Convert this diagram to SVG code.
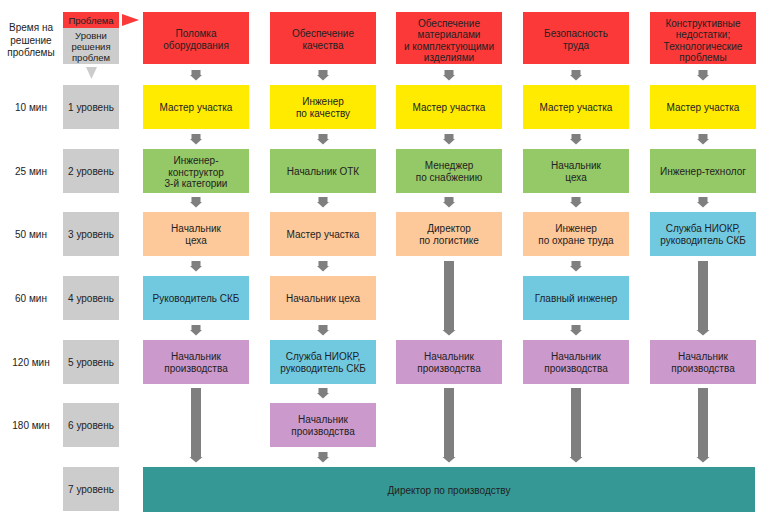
<svg xmlns="http://www.w3.org/2000/svg" width="763" height="519" viewBox="0 0 763 519">
<defs>
<style>
text{font-family:"Liberation Sans",Arial,sans-serif;font-size:10px;fill:#222;text-anchor:middle;dominant-baseline:central}
text.sm{font-size:9.5px}
.red{fill:#fb3939}.yel{fill:#ffeb00}.grn{fill:#95c866}.pch{fill:#fdc89a}.blu{fill:#71c9e0}.pur{fill:#cc99cc}.gry{fill:#cccccc}.teal{fill:#369894}
.arr{fill:#7f7f7f}
</style>
</defs>
<rect width="763" height="519" fill="#ffffff"/>

<g id="legend">
<text x="31" y="27">Время на</text>
<text x="31" y="40">решение</text>
<text x="31" y="52">проблемы</text>
<rect class="red" x="63" y="12" width="56" height="16"/>
<text class="sm" x="91" y="20.5">Проблема</text>
<rect class="gry" x="63" y="28" width="56" height="36"/>
<text class="sm" x="91" y="35">Уровни</text>
<text class="sm" x="91" y="46.5">решения</text>
<text class="sm" x="91" y="57.5">проблем</text>
<polygon points="122,14 139,20 122,26" fill="#fb3939"/>
<polygon points="86,67 97,67 91.5,79" fill="#cccccc"/>
</g>

<g id="levels">
<g id="lvl1"><text x="31" y="107">10 мин</text><rect class="gry" x="63" y="85" width="56" height="44"/><text x="91" y="107">1 уровень</text></g>
<g id="lvl2"><text x="31" y="171">25 мин</text><rect class="gry" x="63" y="149" width="56" height="44"/><text x="91" y="171">2 уровень</text></g>
<g id="lvl3"><text x="31" y="234">50 мин</text><rect class="gry" x="63" y="212" width="56" height="44"/><text x="91" y="234">3 уровень</text></g>
<g id="lvl4"><text x="31" y="298">60 мин</text><rect class="gry" x="63" y="276" width="56" height="44"/><text x="91" y="298">4 уровень</text></g>
<g id="lvl5"><text x="31" y="362">120 мин</text><rect class="gry" x="63" y="340" width="56" height="44"/><text x="91" y="362">5 уровень</text></g>
<g id="lvl6"><text x="31" y="425">180 мин</text><rect class="gry" x="63" y="403" width="56" height="44"/><text x="91" y="425">6 уровень</text></g>
<g id="lvl7"><rect class="gry" x="63" y="467" width="56" height="44"/><text x="91" y="489">7 уровень</text></g>
</g>

<g id="col1">
<g id="c1h"><rect class="red" x="143" y="12" width="106" height="52"/><text x="196" y="33">Поломка</text><text x="196" y="45">оборудования</text></g>
<g id="c1r1"><rect class="yel" x="143" y="85" width="106" height="44"/><text x="196" y="107">Мастер участка</text></g>
<g id="c1r2"><rect class="grn" x="143" y="149" width="106" height="44"/><text x="196" y="160">Инженер-</text><text x="196" y="172">конструктор</text><text x="196" y="183">3-й категории</text></g>
<g id="c1r3"><rect class="pch" x="143" y="212" width="106" height="44"/><text x="196" y="228">Начальник</text><text x="196" y="240">цеха</text></g>
<g id="c1r4"><rect class="blu" x="143" y="276" width="106" height="44"/><text x="196" y="298">Руководитель СКБ</text></g>
<g id="c1r5"><rect class="pur" x="143" y="340" width="106" height="44"/><text x="196" y="356">Начальник</text><text x="196" y="368">производства</text></g>
</g>

<g id="col2">
<g id="c2h"><rect class="red" x="270" y="12" width="106" height="52"/><text x="323" y="33">Обеспечение</text><text x="323" y="45">качества</text></g>
<g id="c2r1"><rect class="yel" x="270" y="85" width="106" height="44"/><text x="323" y="101">Инженер</text><text x="323" y="113">по качеству</text></g>
<g id="c2r2"><rect class="grn" x="270" y="149" width="106" height="44"/><text x="323" y="171">Начальник ОТК</text></g>
<g id="c2r3"><rect class="pch" x="270" y="212" width="106" height="44"/><text x="323" y="234">Мастер участка</text></g>
<g id="c2r4"><rect class="pch" x="270" y="276" width="106" height="44"/><text x="323" y="298">Начальник цеха</text></g>
<g id="c2r5"><rect class="blu" x="270" y="340" width="106" height="44"/><text x="323" y="356">Служба НИОКР,</text><text x="323" y="368">руководитель СКБ</text></g>
<g id="c2r6"><rect class="pur" x="270" y="403" width="106" height="44"/><text x="323" y="419">Начальник</text><text x="323" y="431">производства</text></g>
</g>

<g id="col3">
<g id="c3h"><rect class="red" x="396" y="12" width="106" height="52"/><text x="449" y="23">Обеспечение</text><text x="449" y="34">материалами</text><text x="449" y="46">и комплектующими</text><text x="449" y="57">изделиями</text></g>
<g id="c3r1"><rect class="yel" x="396" y="85" width="106" height="44"/><text x="449" y="107">Мастер участка</text></g>
<g id="c3r2"><rect class="grn" x="396" y="149" width="106" height="44"/><text x="449" y="165">Менеджер</text><text x="449" y="177">по снабжению</text></g>
<g id="c3r3"><rect class="pch" x="396" y="212" width="106" height="44"/><text x="449" y="228">Директор</text><text x="449" y="240">по логистике</text></g>
<g id="c3r5"><rect class="pur" x="396" y="340" width="106" height="44"/><text x="449" y="356">Начальник</text><text x="449" y="368">производства</text></g>
</g>

<g id="col4">
<g id="c4h"><rect class="red" x="523" y="12" width="106" height="52"/><text x="576" y="33">Безопасность</text><text x="576" y="45">труда</text></g>
<g id="c4r1"><rect class="yel" x="523" y="85" width="106" height="44"/><text x="576" y="107">Мастер участка</text></g>
<g id="c4r2"><rect class="grn" x="523" y="149" width="106" height="44"/><text x="576" y="165">Начальник</text><text x="576" y="177">цеха</text></g>
<g id="c4r3"><rect class="pch" x="523" y="212" width="106" height="44"/><text x="576" y="228">Инженер</text><text x="576" y="240">по охране труда</text></g>
<g id="c4r4"><rect class="blu" x="523" y="276" width="106" height="44"/><text x="576" y="298">Главный инженер</text></g>
<g id="c4r5"><rect class="pur" x="523" y="340" width="106" height="44"/><text x="576" y="356">Начальник</text><text x="576" y="368">производства</text></g>
</g>

<g id="col5">
<g id="c5h"><rect class="red" x="650" y="12" width="106" height="52"/><text x="703" y="23">Конструктивные</text><text x="703" y="34">недостатки;</text><text x="703" y="46">Технологические</text><text x="703" y="57">проблемы</text></g>
<g id="c5r1"><rect class="yel" x="650" y="85" width="106" height="44"/><text x="703" y="107">Мастер участка</text></g>
<g id="c5r2"><rect class="grn" x="650" y="149" width="106" height="44"/><text x="703" y="171">Инженер-технолог</text></g>
<g id="c5r3"><rect class="blu" x="650" y="212" width="106" height="44"/><text x="703" y="228">Служба НИОКР,</text><text x="703" y="240">руководитель СКБ</text></g>
<g id="c5r5"><rect class="pur" x="650" y="340" width="106" height="44"/><text x="703" y="356">Начальник</text><text x="703" y="368">производства</text></g>
</g>

<g id="director"><rect class="teal" x="143" y="467" width="612" height="45"/><text x="449" y="490">Директор по производству</text></g>

<g id="connectors" class="arr">
<path d="M191.5 70h9v5h1.5l-6 5.5l-6-5.5h1.5z"/>
<path d="M318.5 70h9v5h1.5l-6 5.5l-6-5.5h1.5z"/>
<path d="M444.5 70h9v5h1.5l-6 5.5l-6-5.5h1.5z"/>
<path d="M571.5 70h9v5h1.5l-6 5.5l-6-5.5h1.5z"/>
<path d="M698.5 70h9v5h1.5l-6 5.5l-6-5.5h1.5z"/>

<path d="M191.5 134h9v5h1.5l-6 5.5l-6-5.5h1.5z"/>
<path d="M318.5 134h9v5h1.5l-6 5.5l-6-5.5h1.5z"/>
<path d="M444.5 134h9v5h1.5l-6 5.5l-6-5.5h1.5z"/>
<path d="M571.5 134h9v5h1.5l-6 5.5l-6-5.5h1.5z"/>
<path d="M698.5 134h9v5h1.5l-6 5.5l-6-5.5h1.5z"/>

<path d="M191.5 197h9v5h1.5l-6 5.5l-6-5.5h1.5z"/>
<path d="M318.5 197h9v5h1.5l-6 5.5l-6-5.5h1.5z"/>
<path d="M444.5 197h9v5h1.5l-6 5.5l-6-5.5h1.5z"/>
<path d="M571.5 197h9v5h1.5l-6 5.5l-6-5.5h1.5z"/>
<path d="M698.5 197h9v5h1.5l-6 5.5l-6-5.5h1.5z"/>

<path d="M191.5 261h9v5h1.5l-6 5.5l-6-5.5h1.5z"/>
<path d="M318.5 261h9v5h1.5l-6 5.5l-6-5.5h1.5z"/>
<path d="M571.5 261h9v5h1.5l-6 5.5l-6-5.5h1.5z"/>

<path d="M191.5 325h9v5h1.5l-6 5.5l-6-5.5h1.5z"/>
<path d="M318.5 325h9v5h1.5l-6 5.5l-6-5.5h1.5z"/>
<path d="M571.5 325h9v5h1.5l-6 5.5l-6-5.5h1.5z"/>

<path d="M318.5 388h9v5h1.5l-6 5.5l-6-5.5h1.5z"/>
<path d="M318.5 452h9v5h1.5l-6 5.5l-6-5.5h1.5z"/>

<path d="M444 261h10v69h1.5l-6.5 5.5l-6.5-5.5h1.5z"/>
<path d="M698 261h10v69h1.5l-6.5 5.5l-6.5-5.5h1.5z"/>
<path d="M191 388h10v69h1.5l-6.5 5.5l-6.5-5.5h1.5z"/>
<path d="M444 388h10v69h1.5l-6.5 5.5l-6.5-5.5h1.5z"/>
<path d="M571 388h10v69h1.5l-6.5 5.5l-6.5-5.5h1.5z"/>
<path d="M698 388h10v69h1.5l-6.5 5.5l-6.5-5.5h1.5z"/>
</g>
</svg>
